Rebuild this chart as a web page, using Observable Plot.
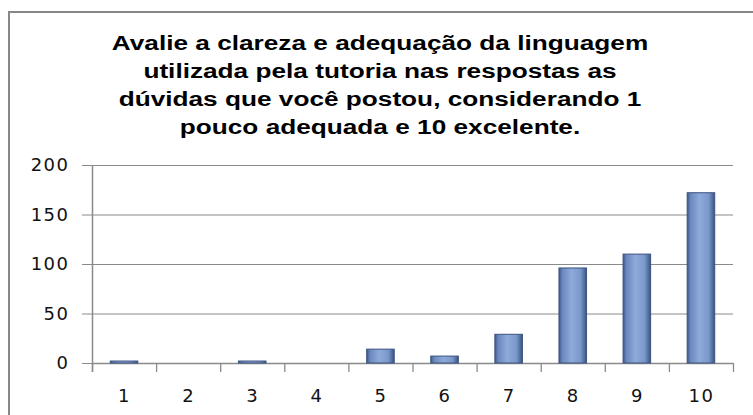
<!DOCTYPE html>
<html>
<head>
<meta charset="utf-8">
<script src="https://cdn.jsdelivr.net/npm/d3@7"></script>
<script src="https://cdn.jsdelivr.net/npm/@observablehq/plot@0.6"></script>
<style>
  html, body { margin: 0; padding: 0; background: #fff; overflow: hidden; width: 753px; height: 415px; }
  #frame { position: absolute; left: 8px; top: 11px; width: 800px; height: 500px; border: 2px solid #878787; box-sizing: border-box; }
  #title { position: absolute; left: 0; top: 29px; width: 760px; text-align: center;
    font-family: "Liberation Sans", Arial, sans-serif; font-weight: bold; font-size: 20px; line-height: 28px;
    color: #000; transform: scaleX(1.31); transform-origin: 380px 0; white-space: nowrap; }
  #chart { position: absolute; left: 0; top: 150px; }
  #chart svg text { letter-spacing: 1.5px; }
</style>
</head>
<body>
<div id="frame"></div>
<div id="title">Avalie a clareza e adequação da linguagem<br>utilizada pela tutoria nas respostas as<br>dúvidas que você postou, considerando 1<br>pouco adequada e 10 excelente.</div>
<div id="chart"></div>
<script>
const categories = [1, 2, 3, 4, 5, 6, 7, 8, 9, 10];
const counts = [2, 0, 2, 0, 14, 7, 29, 96, 110, 172];
const yTicks = [0, 50, 100, 150, 200];

const data = categories.map((k, i) => ({k, v: counts[i]}));
const boundaries = categories.map(c => c - 0.5).concat([categories[categories.length - 1] + 0.5]);
const halfBar = 0.215;
const gridColor = "#8a8a8a";

const chart = Plot.plot({
  width: 753,
  height: 265,
  marginLeft: 92,
  marginRight: 20,
  marginTop: 15,
  marginBottom: 52,
  style: {fontFamily: "DejaVu Sans, Verdana, sans-serif", fontSize: "18px", color: "#111", background: "transparent"},
  x: {type: "linear", domain: [0.5, 10.5]},
  y: {domain: [0, 200]},
  marks: [
    Plot.gridY(yTicks, {stroke: gridColor, strokeOpacity: 1, strokeWidth: 1}),
    Plot.axisY(yTicks, {tickSize: 10, tickPadding: 13, stroke: gridColor, label: null, fill: "#111"}),
    Plot.axisX(categories, {tickSize: 0, tickPadding: 26, label: null, fill: "#111", tickFormat: d => String(d)}),
    Plot.ruleY([0], {stroke: gridColor, strokeWidth: 1.3}),
    Plot.ruleX(boundaries, {y1: 0, y2: 0, insetBottom: -9, stroke: gridColor, strokeWidth: 1.3}),
    Plot.ruleX([boundaries[0]], {y1: 200, y2: 0, insetBottom: -9, stroke: gridColor, strokeWidth: 1.5}),
    Plot.rectY(data, {
      filter: d => d.v > 0,
      x1: d => d.k - halfBar,
      x2: d => d.k + halfBar,
      y1: 0,
      y2: "v",
      fill: "url(#barGrad)",
      stroke: "#3c5380",
      strokeWidth: 1
    })
  ]
});

const ns = "http://www.w3.org/2000/svg";
const defs = document.createElementNS(ns, "defs");
const grad = document.createElementNS(ns, "linearGradient");
grad.setAttribute("id", "barGrad");
grad.setAttribute("x1", "0"); grad.setAttribute("x2", "1");
grad.setAttribute("y1", "0"); grad.setAttribute("y2", "0");
[["0", "#3e5887"], ["0.12", "#6a88bd"], ["0.45", "#8eaadb"], ["0.78", "#7b98ca"], ["0.9", "#5873a6"], ["1", "#3b5282"]]
  .forEach(([o, c]) => {
    const s = document.createElementNS(ns, "stop");
    s.setAttribute("offset", o);
    s.setAttribute("stop-color", c);
    grad.appendChild(s);
  });
defs.appendChild(grad);
chart.insertBefore(defs, chart.firstChild);

document.getElementById("chart").appendChild(chart);
</script>
</body>
</html>
